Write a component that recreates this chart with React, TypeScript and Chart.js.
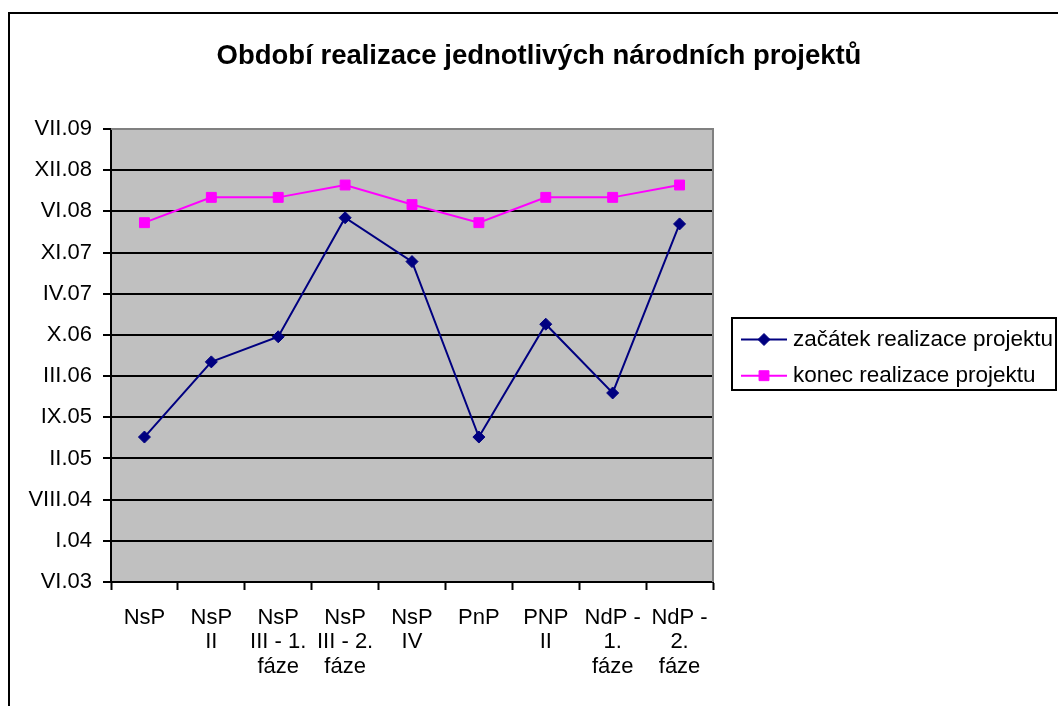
import React, { useEffect, useRef } from "react";
import { Chart, registerables } from "chart.js";

Chart.register(...registerables);

const TITLE = "Období realizace jednotlivých národních projektů";
const CATEGORIES: string[][] = [
  ["NsP"],
  ["NsP", "II"],
  ["NsP", "III - 1.", "fáze"],
  ["NsP", "III - 2.", "fáze"],
  ["NsP", "IV"],
  ["PnP"],
  ["PNP", "II"],
  ["NdP -", "1.", "fáze"],
  ["NdP -", "2.", "fáze"],
];
const SERIES_NAMES = ["začátek realizace projektu", "konec realizace projektu"];
const START_DATES = [
  "2005-06-01",
  "2006-06-01",
  "2006-10-01",
  "2008-05-01",
  "2007-10-01",
  "2005-06-01",
  "2006-12-01",
  "2006-01-01",
  "2008-04-01",
];
const END_DATES = [
  "2008-04-07",
  "2008-08-08",
  "2008-08-08",
  "2008-10-07",
  "2008-07-04",
  "2008-04-07",
  "2008-08-08",
  "2008-08-08",
  "2008-10-07",
];
const Y_TICK_LABELS = [
  "VI.03",
  "I.04",
  "VIII.04",
  "II.05",
  "IX.05",
  "III.06",
  "X.06",
  "IV.07",
  "XI.07",
  "VI.08",
  "XII.08",
  "VII.09",
];
const AXIS_START = "2003-06-28";
const AXIS_STEP_DAYS = 200;

const COLORS = { start: "#000080", end: "#FF00FF", plot: "#C0C0C0", plotBorder: "#808080" };
const FONT = '"Liberation Sans", Arial, sans-serif';

function toDays(iso: string): number {
  const [y, m, d] = iso.split("-").map(Number);
  const [y0, m0, d0] = AXIS_START.split("-").map(Number);
  return (Date.UTC(y, m - 1, d) - Date.UTC(y0, m0 - 1, d0)) / 86400000;
}

const decorPlugin = {
  id: "decor",
  beforeDraw(chart: any) {
    const { ctx, chartArea: a } = chart;
    ctx.save();
    ctx.fillStyle = COLORS.plot;
    ctx.fillRect(a.left, a.top, a.right - a.left, a.bottom - a.top);
    ctx.restore();
  },
  beforeDatasetsDraw(chart: any) {
    const { ctx, chartArea: a } = chart;
    ctx.save();
    ctx.strokeStyle = COLORS.plotBorder;
    ctx.lineWidth = 2;
    ctx.beginPath();
    ctx.moveTo(a.left, a.top);
    ctx.lineTo(a.right, a.top);
    ctx.lineTo(a.right, a.bottom);
    ctx.stroke();
    ctx.restore();
  },
  afterDraw(chart: any) {
    const { ctx } = chart;
    ctx.save();
    // title
    ctx.fillStyle = "#000";
    ctx.font = `bold 27.5px ${FONT}`;
    ctx.textAlign = "center";
    ctx.textBaseline = "alphabetic";
    ctx.fillText(TITLE, 539, 64);
    // legend
    ctx.strokeStyle = "#000";
    ctx.lineWidth = 2;
    ctx.strokeRect(732, 318, 324, 72);
    const rows = [
      { name: SERIES_NAMES[0], color: COLORS.start, style: "rectRot", r: 6, y: 339.5 },
      { name: SERIES_NAMES[1], color: COLORS.end, style: "rect", r: 7, y: 375.7 },
    ];
    ctx.font = `22.5px ${FONT}`;
    ctx.textAlign = "left";
    for (const row of rows) {
      ctx.strokeStyle = row.color;
      ctx.lineWidth = 2;
      ctx.beginPath();
      ctx.moveTo(741, row.y);
      ctx.lineTo(787, row.y);
      ctx.stroke();
      ctx.fillStyle = row.color;
      ctx.lineWidth = 1;
      ctx.beginPath();
      if (row.style === "rectRot") {
        ctx.moveTo(764 - row.r, row.y);
        ctx.lineTo(764, row.y - row.r);
        ctx.lineTo(764 + row.r, row.y);
        ctx.lineTo(764, row.y + row.r);
        ctx.closePath();
      } else {
        const s = row.r * Math.SQRT1_2;
        ctx.rect(764 - s, row.y - s, 2 * s, 2 * s);
      }
      ctx.fill();
      ctx.stroke();
      ctx.fillStyle = "#000";
      ctx.fillText(row.name, 793, row.y + 6);
    }
    ctx.restore();
  },
};

export default function App() {
  const canvasRef = useRef<HTMLCanvasElement | null>(null);

  useEffect(() => {
    if (!canvasRef.current) return;
    Chart.defaults.font.family = FONT;
    const chart = new Chart(canvasRef.current, {
      type: "line",
      data: {
        labels: CATEGORIES,
        datasets: [
          {
            label: SERIES_NAMES[0],
            data: START_DATES.map(toDays),
            borderColor: COLORS.start,
            backgroundColor: COLORS.start,
            borderWidth: 2,
            pointStyle: "rectRot",
            pointRadius: 6,
            pointBorderWidth: 1,
            pointBorderColor: COLORS.start,
            pointBackgroundColor: COLORS.start,
            tension: 0,
          },
          {
            label: SERIES_NAMES[1],
            data: END_DATES.map(toDays),
            borderColor: COLORS.end,
            backgroundColor: COLORS.end,
            borderWidth: 2,
            pointStyle: "rect",
            pointRadius: 7,
            pointBorderWidth: 1,
            pointBorderColor: COLORS.end,
            pointBackgroundColor: COLORS.end,
            tension: 0,
          },
        ],
      },
      options: {
        responsive: false,
        animation: false,
        devicePixelRatio: 1,
        layout: { padding: { top: 129, right: 345, left: 0, bottom: 0 } },
        plugins: {
          legend: { display: false },
          title: { display: false },
          tooltip: { enabled: false },
        },
        scales: {
          x: {
            type: "category",
            offset: true,
            grid: {
              offset: true,
              drawOnChartArea: false,
              drawTicks: true,
              tickLength: 8,
              tickColor: "#000",
              tickWidth: 2,
              color: "#000",
            },
            border: { color: "#000", width: 2 },
            ticks: {
              color: "#000",
              font: { size: 22, lineHeight: 1.1 },
              maxRotation: 0,
              minRotation: 0,
              autoSkip: false,
              padding: 16,
            },
            afterFit(scale: any) {
              scale.height = 124;
            },
          },
          y: {
            type: "linear",
            min: 0,
            max: AXIS_STEP_DAYS * (Y_TICK_LABELS.length - 1),
            grid: {
              color: (c: any) => (c.index === Y_TICK_LABELS.length - 1 ? "rgba(0,0,0,0)" : "#000"),
              lineWidth: 2,
              drawTicks: true,
              tickLength: 8,
              tickColor: "#000",
              tickWidth: 2,
            },
            border: { color: "#000", width: 2 },
            ticks: {
              stepSize: AXIS_STEP_DAYS,
              color: "#000",
              font: { size: 22 },
              padding: 11,
              callback: (_v: any, i: number) => Y_TICK_LABELS[i],
            },
            afterFit(scale: any) {
              scale.width = 111;
            },
          },
        },
      },
      plugins: [decorPlugin],
    } as any);
    return () => chart.destroy();
  }, []);

  return (
    <div
      style={{
        position: "fixed",
        left: 0,
        top: 0,
        width: 1058,
        height: 706,
        overflow: "hidden",
        background: "#fff",
      }}
    >
      <div
        style={{
          position: "absolute",
          left: 8,
          top: 12,
          width: 1200,
          height: 900,
          border: "2px solid #000",
        }}
      />
      <canvas
        ref={canvasRef}
        width={1058}
        height={706}
        style={{ position: "absolute", left: 0, top: 0 }}
      />
    </div>
  );
}
